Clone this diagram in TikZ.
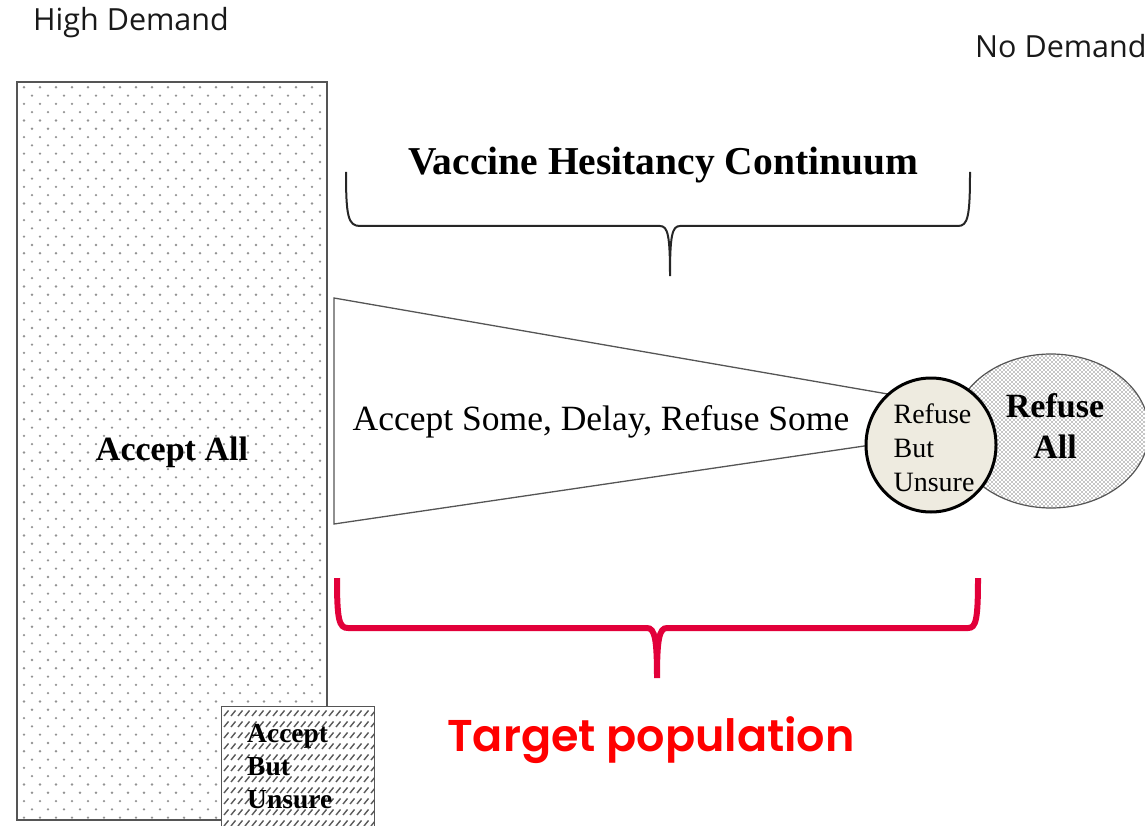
\documentclass[tikz,border=0pt]{standalone}
\usepackage{fontspec}
\setmainfont{Liberation Serif}
\newfontfamily\labelsans{Open Sans}
\newfontfamily\bigsans{Poppins SemiBold}
\usetikzlibrary{patterns,shapes.geometric}

% sparse staggered dots for the large block
\pgfdeclarepatternformonly{sparsedots}{\pgfqpoint{-2pt}{-2pt}}{\pgfqpoint{18pt}{18.6pt}}{\pgfqpoint{16pt}{16.6pt}}{%
  \pgfpathcircle{\pgfqpoint{0pt}{0pt}}{1.3pt}%
  \pgfpathcircle{\pgfqpoint{8pt}{8.3pt}}{1.3pt}%
  \pgfusepath{fill}}
% dense dots for the ellipse
\pgfdeclarepatternformonly{densedots}{\pgfqpoint{-1pt}{-1pt}}{\pgfqpoint{5pt}{5pt}}{\pgfqpoint{4pt}{4pt}}{%
  \pgfpathcircle{\pgfqpoint{0pt}{0pt}}{0.9pt}%
  \pgfpathcircle{\pgfqpoint{2pt}{2pt}}{0.9pt}%
  \pgfusepath{fill}}
% rows of short slashes
\pgfdeclarepatternformonly{slashrows}{\pgfqpoint{-1pt}{-1pt}}{\pgfqpoint{8pt}{12pt}}{\pgfqpoint{7pt}{11pt}}{%
  \pgfsetlinewidth{1.4pt}%
  \pgfpathmoveto{\pgfqpoint{0pt}{0pt}}%
  \pgfpathlineto{\pgfqpoint{4.5pt}{5.5pt}}%
  \pgfusepath{stroke}}

\definecolor{bracered}{HTML}{E2003A}
\definecolor{paleshade}{HTML}{EEEBE0}
\definecolor{edgegray}{HTML}{555555}

\tikzset{
  sidelabel/.style={font=\labelsans\fontsize{30.5}{34}\selectfont, text=black!90, inner sep=0pt},
  block/.style={draw=edgegray, line width=1.3pt, inner sep=0pt},
  boldserif/.style={font=\bfseries\fontsize{34}{41}\selectfont, inner sep=0pt},
}

\begin{document}
\begin{tikzpicture}[x=1pt, y=-1pt]
\useasboundingbox (0,0) rectangle (1145,826);

% end labels
\node[sidelabel, anchor=west] (high) at (33,23) {High Demand};
\node[sidelabel, anchor=west] (none) at (975,46) {No Demand};

% large block
\node[block, minimum width=310pt, minimum height=738pt, pattern=sparsedots, pattern color=gray!85] (acceptall) at (172,451) {};
\node[boldserif] (acceptalltext) at (172,452) {Accept All};

% small hatched block
\node[block, minimum width=153pt, minimum height=126pt, preaction={fill=white}, pattern=slashrows, pattern color=gray!70!black, anchor=north west] (abu) at (221,706) {};
\node[font=\bfseries\fontsize{27.5}{33}\selectfont, align=left, inner sep=0pt, anchor=north west] (abutext) at (247,724) {Accept\\But\\Unsure};

% upper brace and heading
\node[font=\bfseries\fontsize{39.5}{44}\selectfont, inner sep=0pt] (heading) at (663,165) {Vaccine Hesitancy Continuum};
\coordinate (bl) at (346,172);
\coordinate (br) at (970,172);
\coordinate (btip) at (670,276);
\draw[line width=2pt, black!85] (bl) .. controls (346,216) and (348,226) .. (360,226) -- (660,226)
  .. controls (668,226) and (670,236) .. (btip)
  .. controls (670,236) and (672,226) .. (680,226) -- (958,226)
  .. controls (968,226) and (970,216) .. (br);

% tapering band
\coordinate (t1) at (334,298);
\coordinate (t2) at (905,397);
\coordinate (t3) at (905,440);
\coordinate (t4) at (334,524);
\draw[edgegray, line width=1.3pt, line join=miter] (t1) -- (t2) -- (t3) -- (t4) -- cycle;
\node[font=\fontsize{35.5}{40}\selectfont, inner sep=0pt] (middle) at (601,422) {Accept Some, Delay, Refuse Some};

% refusal shapes
\node[ellipse, draw=edgegray, line width=1.2pt, minimum width=196pt, minimum height=154pt, preaction={fill=white}, pattern=densedots, pattern color=gray!90] (refall) at (1051,431) {};
\node[boldserif, align=center] (refalltext) at (1055,426) {Refuse\\All};
\node[ellipse, draw=black, line width=3pt, fill=paleshade, minimum width=130pt, minimum height=134pt, inner sep=0pt] (rbu) at (931,445) {};
\node[font=\fontsize{28}{34}\selectfont, align=left, inner sep=0pt] (rbutext) at (934,448) {Refuse\\But\\Unsure};

% lower brace and caption
\coordinate (rl) at (337,578);
\coordinate (rr) at (978,578);
\coordinate (rtip) at (657,678);
\draw[bracered, line width=6pt] (rl) .. controls (337,620) and (339,628) .. (348,628) -- (647,628)
  .. controls (655,628) and (657,640) .. (rtip)
  .. controls (657,640) and (659,628) .. (667,628) -- (968,628)
  .. controls (976,628) and (978,620) .. (rr);
\node[font=\bigsans\fontsize{44.5}{48}\selectfont, text=red, inner sep=0pt] (target) at (651,740) {Target population};
\end{tikzpicture}
\end{document}
